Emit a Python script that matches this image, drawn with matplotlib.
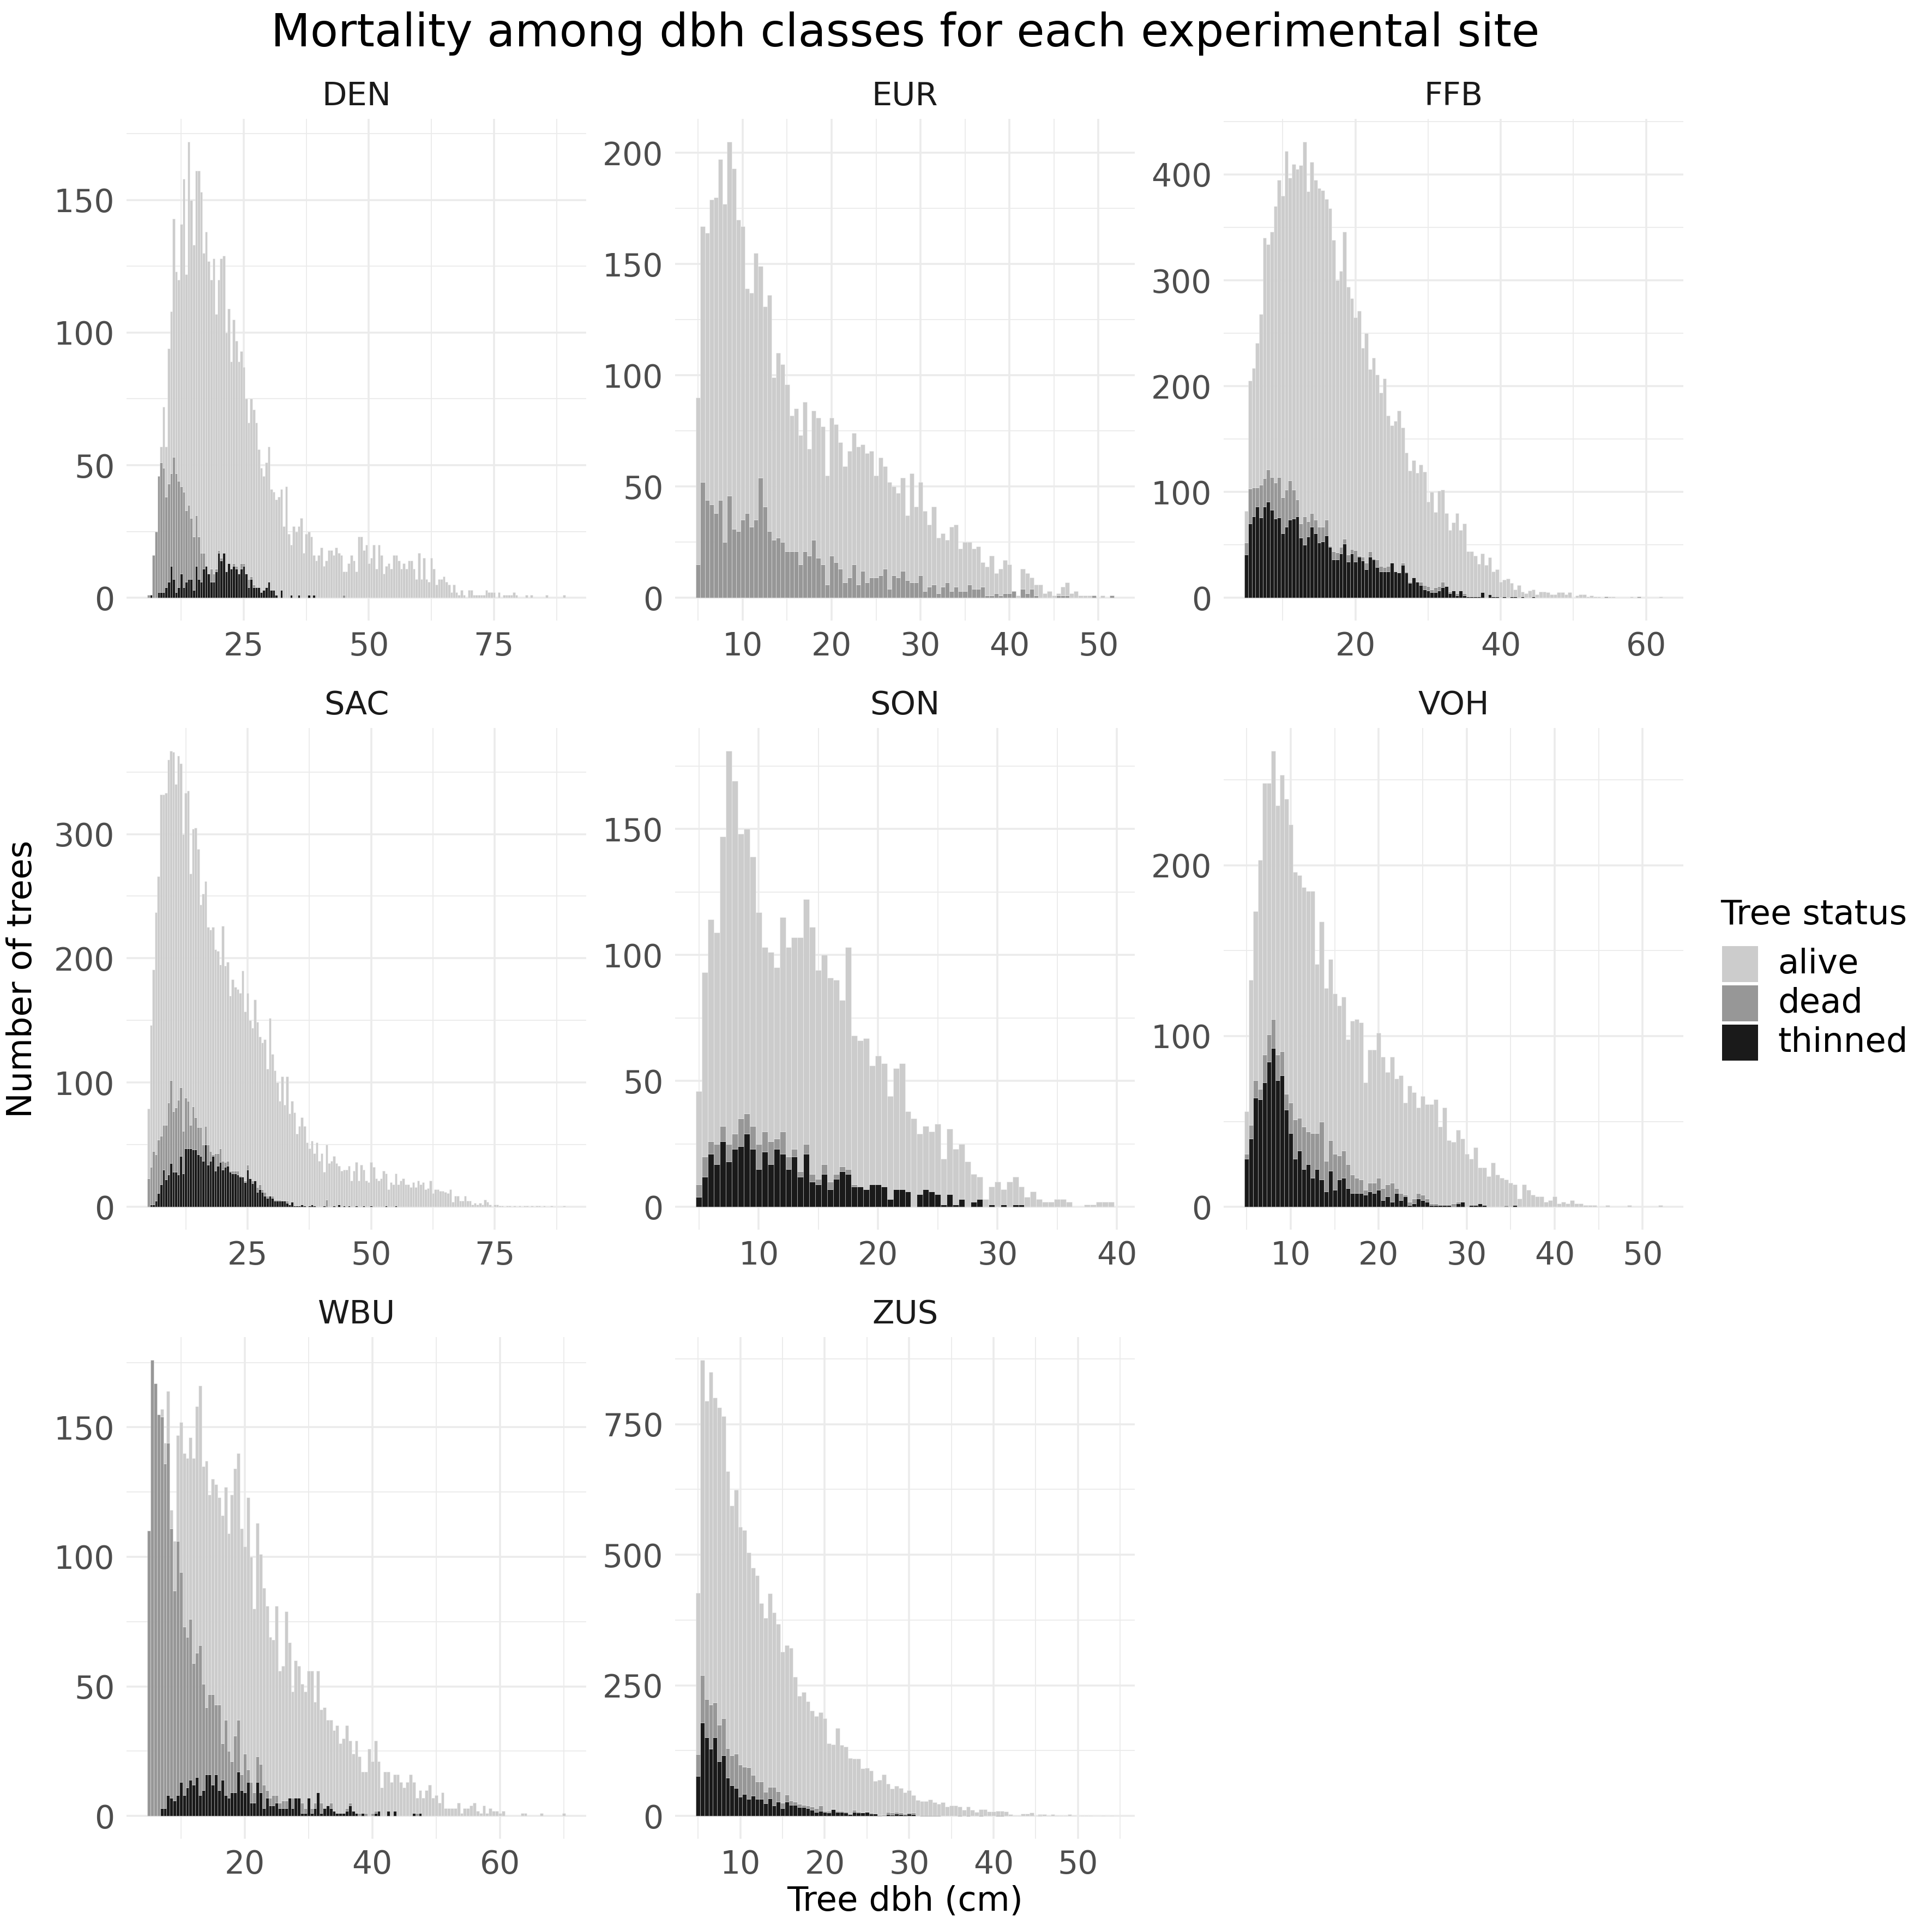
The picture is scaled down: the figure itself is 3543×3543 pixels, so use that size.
import numpy as np
import matplotlib
matplotlib.use("Agg")
import matplotlib.pyplot as plt
from matplotlib.patches import Rectangle

# Histogram of tree dbh per site, 0.5 cm classes.
# For every class: total trees, trees that are dead or thinned, trees thinned.
sites = ["DEN", "EUR", "FFB", "SAC", "SON", "VOH", "WBU", "ZUS"]
bin_width = 0.5
first_bin = [6.0, 5.0, 5.0, 5.0, 5.0, 5.0, 5.0, 5.0]

den_total = [1, 1, 16, 25, 46, 57, 72, 57, 94, 108,
             143, 123, 120, 141, 158, 122, 172, 150, 133, 161,
             161, 153, 130, 138, 127, 120, 128, 107, 120, 128,
             129, 100, 109, 89, 105, 97, 89, 93, 87, 75,
             66, 75, 71, 66, 56, 49, 46, 51, 57, 41,
             40, 37, 38, 41, 27, 42, 24, 20, 27, 25,
             27, 30, 17, 24, 25, 23, 16, 14, 16, 19,
             12, 14, 18, 18, 16, 19, 17, 16, 10, 10,
             13, 16, 14, 10, 23, 23, 18, 20, 13, 15,
             20, 11, 20, 16, 9, 12, 13, 11, 16, 16,
             14, 11, 13, 11, 14, 14, 11, 7, 17, 7,
             15, 7, 6, 15, 11, 5, 7, 7, 8, 6,
             5, 2, 5, 2, 1, 3, 1, 0, 3, 3,
             1, 1, 1, 1, 1, 3, 2, 2, 2, 0,
             2, 0, 1, 1, 1, 1, 2, 1, 0, 0,
             0, 1, 0, 1, 0, 0, 0, 0, 0, 1,
             0, 0, 0, 0, 0, 0, 1]
den_dead_thinned = [1, 1, 16, 25, 46, 51, 49, 38, 43, 47,
                    53, 47, 44, 42, 40, 33, 35, 30, 23, 31,
                    23, 17, 17, 12, 9, 11, 9, 11, 18, 15,
                    17, 10, 13, 11, 13, 12, 9, 13, 13, 9,
                    7, 8, 5, 4, 4, 2, 3, 4, 6, 3,
                    3, 1, 0, 3, 0, 0, 0, 1, 0, 0,
                    1, 0, 0, 0, 1, 0, 1, 0, 0, 0,
                    0, 0, 0, 0, 0, 0, 0, 0, 1]
den_thinned = [0, 1, 0, 0, 2, 2, 2, 4, 6, 12,
               7, 2, 4, 9, 4, 6, 7, 7, 3, 12,
               7, 6, 11, 12, 9, 6, 6, 10, 17, 14,
               17, 10, 13, 11, 12, 11, 9, 11, 12, 9,
               4, 7, 4, 4, 4, 2, 3, 4, 6, 3,
               3, 1, 0, 3, 0, 0, 0, 1, 0, 0,
               1, 0, 0, 0, 1, 0, 1]

eur_total = [90, 167, 164, 179, 180, 197, 177, 205, 193, 170,
             167, 139, 137, 155, 149, 131, 136, 99, 110, 105,
             96, 82, 85, 73, 88, 67, 84, 81, 77, 55,
             81, 78, 70, 59, 66, 74, 68, 69, 65, 66,
             55, 63, 59, 52, 50, 47, 54, 37, 56, 41,
             52, 39, 33, 41, 27, 29, 26, 32, 33, 22,
             25, 25, 22, 23, 16, 14, 19, 11, 13, 17,
             15, 3, 1, 13, 11, 9, 6, 6, 2, 3,
             1, 2, 5, 7, 2, 3, 1, 1, 1, 1,
             0, 1, 0, 1]
eur_dead_thinned = [15, 52, 44, 42, 38, 44, 25, 46, 31, 30,
                    35, 38, 32, 35, 54, 41, 30, 26, 27, 25,
                    21, 21, 21, 15, 21, 19, 26, 18, 15, 6,
                    19, 16, 13, 7, 9, 15, 6, 12, 7, 9,
                    9, 10, 13, 4, 10, 9, 12, 8, 7, 7,
                    10, 3, 5, 6, 2, 5, 7, 3, 5, 3,
                    3, 6, 4, 4, 5, 1, 1, 2, 1, 2,
                    2, 3, 0, 4, 2, 4, 1, 0, 0, 0,
                    0, 1, 1, 1, 0, 0, 0, 0, 0, 1,
                    0, 0, 0, 1]
eur_thinned = [0]

ffb_total = [82, 205, 217, 241, 268, 340, 334, 346, 370, 395,
             380, 422, 397, 410, 405, 409, 431, 384, 412, 395,
             387, 385, 377, 368, 338, 300, 309, 346, 294, 283,
             265, 271, 236, 250, 216, 227, 211, 194, 207, 172,
             163, 167, 177, 161, 137, 120, 130, 118, 126, 119,
             91, 100, 81, 101, 102, 80, 64, 71, 80, 64,
             70, 44, 44, 40, 32, 42, 31, 38, 25, 27,
             15, 17, 18, 14, 8, 12, 6, 4, 7, 8,
             3, 6, 6, 5, 3, 3, 5, 5, 3, 5,
             0, 2, 3, 3, 1, 2, 1, 1, 0, 1,
             1, 1, 0, 0, 0, 0, 1, 0, 1, 0,
             0, 0, 0, 0, 1]
ffb_dead_thinned = [52, 103, 104, 104, 107, 113, 121, 114, 109, 114,
                    95, 102, 111, 102, 93, 70, 77, 72, 80, 74,
                    67, 67, 74, 49, 44, 43, 48, 56, 41, 46,
                    45, 40, 39, 33, 44, 37, 36, 30, 29, 30,
                    33, 25, 24, 33, 25, 15, 19, 15, 15, 12,
                    11, 8, 10, 11, 15, 11, 6, 7, 4, 7,
                    4, 1, 1, 1, 1, 5, 0, 3, 1, 1,
                    0, 1, 0, 1, 1, 0, 1, 0, 0, 1,
                    0, 0, 0, 0, 0, 0, 0, 0, 0, 0,
                    0, 0, 0, 0, 0, 0, 0, 0, 0, 1,
                    0, 0, 0, 0, 0, 0, 0, 0, 1]
ffb_thinned = [41, 70, 77, 86, 76, 86, 91, 83, 75, 76,
               61, 67, 74, 75, 77, 57, 50, 58, 67, 61,
               52, 53, 59, 48, 36, 36, 42, 51, 34, 42,
               34, 39, 35, 27, 39, 36, 29, 25, 25, 25,
               33, 25, 24, 31, 24, 14, 19, 15, 12, 8,
               7, 5, 5, 7, 10, 11, 4, 7, 2, 7,
               2, 1, 1, 1, 1, 5, 0, 3, 1, 1,
               0, 1, 0, 1, 1, 0, 1, 0, 0, 1]

sac_total = [79, 146, 191, 237, 266, 332, 332, 333, 360, 367,
             366, 340, 363, 357, 300, 333, 335, 268, 304, 305,
             288, 243, 252, 262, 225, 223, 225, 207, 206, 195,
             226, 194, 197, 170, 183, 177, 175, 172, 190, 157,
             172, 150, 144, 167, 149, 137, 132, 135, 111, 152,
             123, 110, 100, 85, 105, 82, 105, 75, 85, 76,
             59, 65, 72, 65, 52, 47, 53, 43, 52, 37,
             43, 28, 50, 35, 37, 41, 35, 33, 29, 30,
             30, 33, 21, 29, 36, 21, 34, 30, 21, 20,
             36, 32, 23, 21, 23, 29, 27, 14, 20, 18,
             27, 18, 21, 23, 18, 18, 16, 20, 16, 21,
             18, 20, 14, 15, 21, 11, 14, 14, 13, 13,
             12, 11, 14, 4, 9, 9, 5, 5, 9, 5,
             5, 2, 3, 2, 3, 2, 6, 4, 2, 0,
             2, 2, 1, 1, 0, 1, 1, 0, 1, 0,
             1, 0, 1, 1, 0, 1, 0, 1, 1, 0,
             1, 0, 0, 1, 0, 0, 0, 0, 1]
sac_dead_thinned = [23, 32, 45, 42, 54, 57, 66, 66, 84, 102,
                    77, 80, 86, 96, 61, 88, 85, 66, 81, 72,
                    64, 64, 50, 65, 50, 45, 42, 43, 43, 47,
                    37, 36, 37, 29, 29, 29, 29, 25, 24, 21,
                    34, 23, 21, 21, 16, 18, 14, 12, 9, 9,
                    9, 6, 6, 6, 5, 5, 5, 2, 4, 1,
                    1, 1, 2, 1, 0, 1, 2, 1, 0, 0,
                    0, 1, 6, 0, 0, 1, 0, 2, 0, 1,
                    0, 1, 0, 0, 1, 0, 0, 1, 0, 0,
                    1, 0, 0, 0, 0, 0, 1, 0, 0, 0,
                    1]
sac_thinned = [0, 2, 2, 5, 11, 18, 30, 22, 26, 35,
               28, 28, 26, 41, 27, 47, 47, 47, 46, 46,
               42, 41, 37, 50, 34, 37, 41, 29, 33, 36,
               30, 32, 33, 28, 27, 27, 26, 24, 24, 20,
               30, 23, 19, 21, 12, 14, 12, 9, 7, 9,
               7, 5, 5, 5, 5, 5, 3, 2, 4, 1,
               1, 1, 2, 1, 0, 1, 2, 1, 0, 0,
               0, 1, 0, 0, 0, 1, 0, 2, 0, 1,
               0, 1, 0, 0, 1, 0, 0, 1, 0, 0,
               1, 0, 0, 0, 0, 0, 1, 0, 0, 0,
               1]

son_total = [46, 93, 114, 109, 147, 181, 169, 148, 150, 139,
             117, 103, 101, 95, 115, 103, 107, 107, 122, 111,
             94, 100, 91, 90, 82, 103, 68, 66, 67, 56,
             60, 57, 44, 55, 57, 38, 35, 29, 32, 30,
             33, 19, 31, 23, 25, 18, 13, 12, 3, 8,
             10, 7, 10, 12, 8, 4, 6, 3, 2, 2,
             3, 3, 2, 0, 0, 1, 1, 2, 2, 2]
son_dead_thinned = [9, 20, 26, 25, 32, 25, 29, 35, 37, 32,
                    25, 30, 26, 27, 30, 20, 23, 14, 25, 13,
                    11, 17, 10, 13, 16, 15, 9, 8, 7, 9,
                    9, 8, 3, 7, 7, 6, 0, 5, 7, 6,
                    5, 1, 5, 1, 3, 0, 2, 3, 0, 1,
                    0, 1, 0, 1, 1]
son_thinned = [4, 12, 21, 17, 26, 18, 23, 24, 29, 23,
               15, 22, 17, 23, 21, 15, 20, 12, 21, 10,
               9, 13, 7, 11, 14, 13, 8, 8, 7, 9,
               9, 8, 3, 7, 7, 6, 0, 5, 7, 6,
               5, 1, 5, 1, 3, 0, 2, 3, 0, 1,
               0, 1, 0, 1, 1]

voh_total = [56, 133, 173, 203, 248, 248, 267, 235, 253, 239,
             224, 196, 194, 187, 185, 185, 142, 167, 128, 145,
             125, 118, 123, 98, 109, 110, 108, 73, 92, 92,
             102, 88, 79, 88, 75, 77, 61, 71, 67, 58,
             65, 60, 60, 63, 47, 58, 39, 38, 45, 40,
             31, 28, 35, 23, 23, 18, 26, 19, 17, 16,
             14, 13, 5, 13, 10, 7, 6, 6, 3, 4,
             6, 2, 3, 2, 4, 2, 2, 1, 1, 1,
             0, 0, 1, 0, 0, 0, 0, 1, 0, 0,
             0, 0, 0, 0, 1]
voh_dead_thinned = [31, 48, 74, 69, 89, 101, 110, 89, 91, 66,
                    61, 51, 52, 47, 44, 43, 43, 50, 27, 39,
                    31, 30, 33, 25, 19, 17, 16, 10, 14, 14,
                    17, 11, 13, 14, 11, 8, 7, 3, 5, 8,
                    7, 5, 2, 2, 1, 1, 1, 2, 3, 3,
                    0, 1, 1, 2, 1, 0, 0, 0, 0, 1,
                    0, 1]
voh_thinned = [28, 40, 64, 63, 73, 85, 93, 74, 77, 57,
               43, 28, 33, 22, 25, 17, 22, 16, 9, 21,
               10, 16, 17, 11, 8, 8, 8, 7, 9, 8,
               10, 4, 6, 3, 8, 4, 6, 1, 2, 5,
               4, 3, 1, 1, 1, 1, 1, 0, 2, 3,
               0, 1, 1, 2, 1, 0, 0, 0, 0, 0,
               0, 1]

wbu_total = [110, 176, 167, 155, 157, 144, 164, 118, 106, 147,
             152, 140, 138, 146, 138, 158, 166, 135, 137, 124,
             130, 128, 123, 116, 127, 109, 124, 134, 140, 111,
             104, 123, 100, 80, 113, 101, 88, 81, 69, 68,
             81, 56, 58, 79, 67, 48, 60, 58, 51, 48,
             56, 56, 44, 56, 41, 42, 37, 37, 33, 35,
             28, 30, 35, 29, 24, 29, 23, 17, 17, 26,
             21, 29, 21, 11, 17, 17, 13, 16, 16, 13,
             11, 13, 16, 13, 7, 10, 7, 10, 12, 7,
             8, 5, 9, 3, 3, 3, 3, 5, 1, 3,
             3, 4, 5, 2, 1, 4, 1, 3, 2, 2,
             1, 2, 0, 0, 0, 0, 0, 1, 1, 0,
             0, 0, 0, 1, 0, 0, 0, 0, 0, 0,
             1]
wbu_dead_thinned = [110, 176, 167, 155, 154, 136, 144, 111, 87, 106,
                    94, 73, 69, 76, 59, 63, 66, 51, 42, 47,
                    47, 43, 43, 28, 37, 25, 21, 31, 37, 16,
                    24, 18, 13, 9, 23, 20, 12, 10, 7, 8,
                    8, 5, 6, 6, 7, 7, 7, 7, 5, 3,
                    7, 3, 5, 9, 5, 3, 4, 5, 2, 1,
                    1, 1, 3, 5, 2, 1, 1, 1, 1, 0,
                    1, 2, 2, 0, 0, 2, 0, 2, 0, 0,
                    0, 0, 0, 1, 1, 1]
wbu_thinned = [0, 0, 0, 0, 3, 3, 8, 7, 6, 8,
               13, 8, 11, 14, 12, 15, 8, 10, 16, 16,
               12, 16, 10, 14, 8, 7, 9, 9, 17, 10,
               9, 13, 5, 5, 13, 9, 3, 7, 4, 4,
               5, 3, 3, 3, 7, 3, 7, 7, 1, 1,
               7, 1, 3, 9, 1, 3, 4, 3, 2, 1,
               1, 1, 2, 4, 2, 1, 0, 1, 0, 0,
               0, 1, 2, 0, 0, 2, 0, 2, 0, 0,
               0, 0, 0, 1, 0, 1]

zus_total = [427, 873, 795, 850, 801, 782, 765, 660, 594, 624,
             553, 547, 504, 475, 461, 407, 379, 426, 390, 368,
             314, 327, 322, 266, 230, 237, 219, 202, 191, 199,
             187, 139, 137, 168, 136, 133, 111, 110, 110, 91,
             92, 87, 67, 69, 79, 62, 52, 58, 53, 45,
             49, 40, 30, 28, 28, 31, 26, 23, 26, 18,
             20, 20, 18, 12, 18, 12, 7, 13, 13, 9,
             9, 10, 10, 9, 3, 1, 1, 4, 4, 6,
             1, 3, 3, 1, 3, 1, 1, 1, 3, 1,
             0, 1, 1, 1, 0, 0, 1, 0, 1]
zus_dead_thinned = [118, 270, 224, 213, 217, 175, 187, 130, 116, 119,
                    98, 94, 93, 78, 66, 66, 46, 55, 55, 47,
                    25, 41, 29, 27, 23, 21, 20, 18, 15, 20,
                    10, 10, 14, 10, 10, 9, 4, 12, 9, 7,
                    9, 6, 4, 2, 2, 7, 6, 7, 6, 4,
                    6, 6, 0, 1, 1, 1, 1, 1, 0, 0,
                    0, 0, 1, 0, 1, 0, 0, 1, 0, 0,
                    0, 1, 1, 0, 0, 0, 0, 0, 0, 0,
                    0, 1]
zus_thinned = [76, 179, 151, 129, 151, 105, 116, 73, 59, 53,
               37, 42, 33, 39, 33, 33, 24, 34, 20, 27,
               15, 27, 21, 21, 17, 17, 15, 12, 7, 10,
               7, 6, 13, 7, 7, 6, 3, 7, 6, 6,
               7, 4, 4, 1, 0, 3, 2, 4, 3, 2,
               4, 3, 0, 1, 1, 1, 1, 1, 0, 0,
               0, 0, 1, 0, 1, 0, 0, 1, 0, 0,
               0, 1, 1]

x_breaks = [[25, 50, 75], [10, 20, 30, 40, 50], [20, 40, 60], [25, 50, 75],
            [10, 20, 30, 40], [10, 20, 30, 40, 50], [20, 40, 60], [10, 20, 30, 40, 50]]
y_breaks = [[0, 50, 100, 150], [0, 50, 100, 150, 200], [0, 100, 200, 300, 400],
            [0, 100, 200, 300], [0, 50, 100, 150], [0, 100, 200],
            [0, 50, 100, 150], [0, 250, 500, 750]]

status_labels = ["alive", "dead", "thinned"]
status_colors = ["#CCCCCC", "#979797", "#1A1A1A"]

totals = [den_total, eur_total, ffb_total, sac_total, son_total, voh_total, wbu_total, zus_total]
removed = [den_dead_thinned, eur_dead_thinned, ffb_dead_thinned, sac_dead_thinned,
           son_dead_thinned, voh_dead_thinned, wbu_dead_thinned, zus_dead_thinned]
thinned = [den_thinned, eur_thinned, ffb_thinned, sac_thinned, son_thinned,
           voh_thinned, wbu_thinned, zus_thinned]

W = 3543.0
grid_col = "#EBEBEB"


def pad(vals, n):
    out = np.zeros(n)
    out[:len(vals)] = vals
    return out


def minor_breaks(br, lo, hi):
    step = br[1] - br[0]
    cand = [br[0] - step / 2] + [b + step / 2 for b in br]
    return [c for c in cand if lo <= c <= hi]


def draw_panel(ax, k):
    tot = np.array(totals[k], float)
    n = len(tot)
    x = first_bin[k] + bin_width * np.arange(n)
    rem = np.minimum(pad(removed[k], n), tot)
    thn = np.minimum(pad(thinned[k], n), rem)
    # stacked bottom-up: thinned, dead, alive
    layers = [(thn, np.zeros(n), status_colors[2]),
              (rem - thn, thn, status_colors[1]),
              (tot - rem, rem, status_colors[0])]
    for h, b, col in layers:
        m = h > 0
        ax.bar(x[m], h[m], bottom=b[m], width=bin_width, color=col,
               edgecolor=(1, 1, 1, 0.35), linewidth=0.25, zorder=2)

    nz = np.nonzero(tot)[0]
    left = x[nz[0]] - bin_width / 2
    right = x[nz[-1]] + bin_width / 2
    r = right - left
    xlo, xhi = left - 0.05 * r, right + 0.05 * r
    ymax = tot.max()
    ylo, yhi = -0.05 * ymax, 1.05 * ymax
    ax.set_xlim(xlo, xhi)
    ax.set_ylim(ylo, yhi)

    xb, yb = x_breaks[k], y_breaks[k]
    ax.set_xticks(xb)
    ax.set_xticklabels([str(v) for v in xb])
    ax.set_yticks(yb)
    ax.set_yticklabels([str(v) for v in yb])
    ax.set_xticks(minor_breaks(xb, xlo, xhi), minor=True)
    ax.set_yticks(minor_breaks(yb, ylo, yhi), minor=True)
    ax.grid(which="major", color=grid_col, linewidth=0.85, zorder=0)
    ax.grid(which="minor", color=grid_col, linewidth=0.45, zorder=0)
    ax.set_axisbelow(True)
    ax.tick_params(which="both", length=0)
    ax.tick_params(axis="x", pad=4.6, labelsize=14, labelcolor="#4D4D4D")
    ax.tick_params(axis="y", pad=5.2, labelsize=14, labelcolor="#4D4D4D")
    for s in ax.spines.values():
        s.set_visible(False)
    ax.text(0.5, 1 + 25 / 920.0, sites[k], transform=ax.transAxes, ha="center",
            va="baseline", fontsize=14.2, color="#1A1A1A")


fig = plt.figure(figsize=(W / 300, W / 300), dpi=300)

col_left = [232, 1238, 2244]
row_top = [218, 1335, 2452]
pw, ph = 843, 920

for k in range(len(sites)):
    r, c = divmod(k, 3)
    ax = fig.add_axes([col_left[c] / W, 1 - (row_top[r] + ph) / W, pw / W, ph / W])
    draw_panel(ax, k)

fig.text(1660 / W, 1 - 85 / W, "Mortality among dbh classes for each experimental site",
         ha="center", va="baseline", fontsize=20.0, color="black")
fig.text(1660 / W, 1 - 3487 / W, "Tree dbh (cm)", ha="center", va="center",
         fontsize=15, color="black")
fig.text(41 / W, 1 - 1795 / W, "Number of trees", ha="center", va="center",
         rotation=90, fontsize=15, color="black")

# legend
fig.text(3155 / W, 1 - 1695 / W, "Tree status", ha="left", va="baseline",
         fontsize=15, color="black")
key_tops = [1735, 1807, 1879]
for lab, col, top in zip(status_labels, status_colors, key_tops):
    fig.add_artist(Rectangle((3158 / W, 1 - (top + 66) / W), 66 / W, 66 / W,
                             transform=fig.transFigure, facecolor=col, edgecolor="none"))
    fig.text(3260 / W, 1 - (top + 33) / W, lab, ha="left", va="center",
             fontsize=15, color="black")

fig.savefig("out.png", dpi=300, facecolor="white")
